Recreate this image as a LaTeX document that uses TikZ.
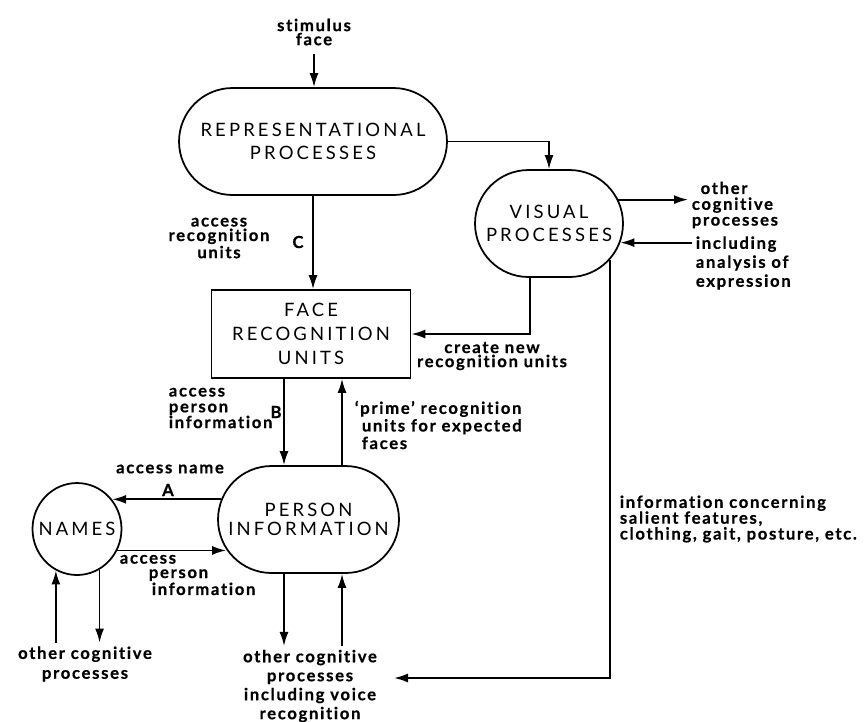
\documentclass[tikz,border=0pt]{standalone}
\usepackage{fontspec}
\usepackage{tikz}
\usetikzlibrary{arrows.meta, positioning, shapes.geometric, shapes.misc, calc}
\newfontfamily\capfont[LetterSpace=17]{Lato}
\newfontfamily\lblfont[LetterSpace=10, Ligatures=NoCommon, BoldFeatures={FakeBold=0.6}]{Lato}

\tikzset{
    proc/.style={draw, line width=1pt, rounded rectangle, minimum height=2.14cm, inner sep=0pt, align=center, font=\capfont\fontsize{10.5}{13.5}\selectfont},
    unitbox/.style={draw, line width=1pt, rectangle, minimum width=3.98cm, minimum height=1.76cm, inner sep=0pt, align=center, font=\capfont\fontsize{10.5}{13.8}\selectfont},
    lbl/.style={font=\lblfont\bfseries\fontsize{9.5}{9}\selectfont, align=center, inner sep=2pt},
    arr/.style={line width=1pt, -{Latex[length=2.8mm,width=1.8mm]}}
}

\begin{document}
\begin{tikzpicture}[x=0.02cm, y=-0.02cm]
    \useasboundingbox (0,0) rectangle (864,721);
    % processes
    \node[proc, minimum width=5.36cm] (rep) at (313,141.5) {REPRESENTATIONAL\\PROCESSES};
    \node[proc, minimum width=2.96cm, font=\capfont\fontsize{10.5}{13}\selectfont] (vis) at (549,223.5) {VISUAL\\PROCESSES};
    \node[unitbox] (fru) at (311,334) {FACE\\RECOGNITION\\UNITS};
    \node[proc, minimum width=3.62cm, font=\capfont\fontsize{10.5}{11}\selectfont] (pi) at (308.5,519.5) {PERSON\\INFORMATION};
    \node[draw, line width=1pt, ellipse, minimum width=1.78cm, minimum height=1.84cm, inner xsep=-8pt, inner ysep=0pt, font=\capfont\fontsize{10.5}{11}\selectfont] (names) at (77,529) {NAMES};

    % labels
    \node[lbl, font=\lblfont\bfseries\fontsize{9.5}{8}\selectfont] (stim) at (314,32) {stimulus\\face};
    \node[lbl, font=\lblfont\bfseries\fontsize{9.5}{8.3}\selectfont] (accrec) at (219,238) {access\\recognition\\units};
    \node[lbl] (lblC) at (298,242) {C};
    \node[lbl, font=\lblfont\bfseries\fontsize{9.5}{8}\selectfont] (create) at (492,356) {create new\\recognition units};
    \node[lbl, anchor=west, align=left] (accpers) at (165,408) {access\\person\\information};
    \node[lbl] (lblB) at (276,412) {B};
    \node[lbl, anchor=west, align=left, font=\lblfont\bfseries\fontsize{9.5}{10}\selectfont] (prime) at (351,425) {‘prime’ recognition\\\hspace{4pt}units for expected\\\hspace{4pt}faces};
    \node[lbl] (accname) at (170,469) {access name};
    \node[lbl] (lblA) at (168,490) {A};
    \node[lbl, anchor=west, align=left, font=\lblfont\bfseries\fontsize{9.5}{8.2}\selectfont] (accback) at (116,575) {access\\\hspace{0.58cm}person\\\hspace{0.64cm}information};
    \node[lbl, font=\lblfont\bfseries\fontsize{9.5}{11.3}\selectfont] (namescog) at (85,664) {other cognitive\\processes};
    \node[lbl, font=\lblfont\bfseries\fontsize{9.5}{10.8}\selectfont] (picog) at (310,686) {other cognitive\\processes\\including voice\\recognition};
    \node[lbl, anchor=west, align=left] (visout) at (688,205) {\hspace{5pt}other\\cognitive\\processes};
    \node[lbl, anchor=west, align=left, font=\lblfont\bfseries\fontsize{9.5}{10.8}\selectfont] (visin) at (692,263) {including\\analysis of\\expression};
    \node[lbl, anchor=west, align=left] (info) at (616,519) {information concerning\\salient features,\\clothing, gait, posture, etc.};

    \coordinate (bx) at (284,0);
    \coordinate (px) at (342,0);
    \coordinate (voice) at (394,678);

    % arrows
    \draw[arr] ([yshift=-0.1cm]stim.south) -- (stim.south |- rep.north);
    \draw[arr] (rep.east) -| (vis.north);
    \draw[arr] (rep.south) -- (rep.south |- fru.north);
    \draw[arr] ($(vis.south)+(-19,0)$) |- (fru.east);
    \draw[arr] (vis.19) -- (vis.19 -| visout.west);
    \draw[arr] (vis.345 -| visin.west) -- (vis.345);
    \draw[arr] (vis.329) |- (voice);
    \draw[arr] (fru.south -| bx) -- (pi.north -| bx);
    \draw[arr] (pi.north -| px) -- (fru.south -| px);
    \draw[arr] (pi.167) -- (pi.167 -| names.40);
    \draw[arr] (names.332) -- (names.332 -| pi.200);
    \draw[arr] (names.243 |- namescog.north) -- (names.243);
    \draw[arr] (names.299) -- (names.299 |- namescog.north);
    \draw[arr] (pi.south -| bx) -- (picog.north -| bx);
    \draw[arr] (picog.north -| px) -- (pi.south -| px);
\end{tikzpicture}
\end{document}
